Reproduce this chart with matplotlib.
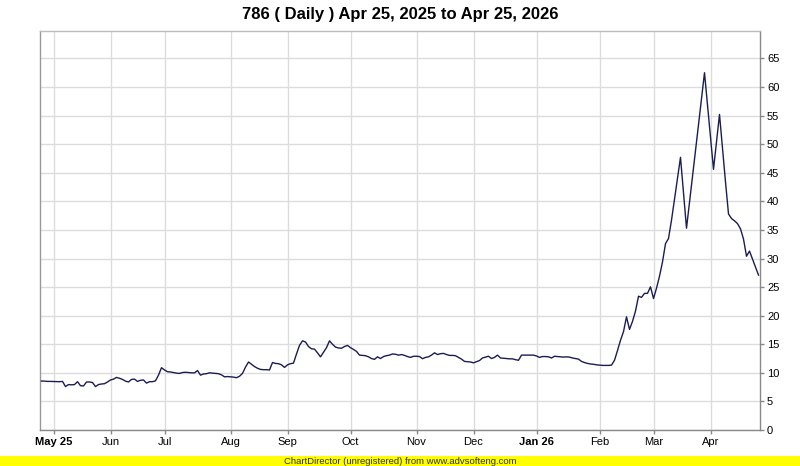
import matplotlib
matplotlib.use("Agg")
import matplotlib.pyplot as plt
from matplotlib.patches import Rectangle

title = "786 ( Daily ) Apr 25, 2025 to Apr 25, 2026"

# closing price per trading day (Apr 25 2025 .. Apr 24 2026)
prices = [
    8.57, 8.55, 8.5, 8.5, 8.48, 8.45, 8.45, 8.5, 7.6, 7.95,
    7.9, 7.95, 8.45, 7.75, 7.7, 8.4, 8.4, 8.3, 7.6, 7.95,
    8.05, 8.1, 8.4, 8.75, 8.9, 9.2, 9.05, 8.85, 8.55, 8.4,
    8.85, 8.9, 8.5, 8.7, 8.75, 8.2, 8.45, 8.45, 8.6, 9.6,
    10.9, 10.5, 10.2, 10.15, 10.05, 9.95, 9.9, 10.05, 10.1, 10.05,
    10.0, 10.0, 10.4, 9.6, 9.8, 9.85, 10.0, 9.95, 9.9, 9.85,
    9.65, 9.3, 9.35, 9.3, 9.25, 9.15, 9.4, 9.9, 11.0, 11.9,
    11.5, 11.1, 10.8, 10.6, 10.55, 10.55, 10.5, 11.8, 11.65, 11.6,
    11.4, 10.95, 11.4, 11.6, 11.7, 13.3, 14.8, 15.6, 15.4, 14.6,
    14.2, 14.15, 13.5, 12.8, 13.6, 14.4, 15.6, 15.0, 14.5, 14.35,
    14.3, 14.6, 14.8, 14.4, 14.1, 13.75, 13.1, 13.05, 13.0, 12.8,
    12.5, 12.36, 12.8, 12.5, 12.85, 13.0, 13.1, 13.3, 13.25, 13.1,
    13.2, 13.05, 12.85, 12.7, 12.9, 12.9, 12.85, 12.47, 12.7, 12.8,
    13.1, 13.5, 13.2, 13.35, 13.4, 13.2, 13.05, 13.05, 13.0, 12.7,
    12.4, 12.0, 11.95, 11.9, 11.75, 11.95, 12.15, 12.6, 12.75, 12.9,
    12.5, 12.7, 13.1, 12.6, 12.55, 12.5, 12.45, 12.45, 12.3, 12.2,
    13.1, 13.1, 13.1, 13.1, 13.1, 12.95, 12.7, 12.85, 12.85, 12.8,
    12.6, 12.9, 12.85, 12.8, 12.75, 12.8, 12.75, 12.6, 12.5, 12.4,
    12.0, 11.8, 11.65, 11.55, 11.5, 11.4, 11.35, 11.3, 11.3, 11.3,
    11.35, 12.2, 13.9, 15.7, 17.2, 19.8, 17.6, 19.0, 20.8, 23.4,
    23.2, 23.9, 23.9, 25.05, 23.0, 24.8, 26.9, 29.4, 32.6, 33.5,
    36.7, 40.4, 44.0, 47.7, 41.5, 35.3, 39.8, 44.4, 48.9, 53.4,
    58.0, 62.5, 56.9, 51.2, 45.6, 50.4, 55.2, 49.3, 43.4, 37.8,
    37.0, 36.6, 36.1, 35.2, 33.4, 30.4, 31.3, 29.9, 28.5, 27.1,
]

# trading-day index of the first session of each month
month_first_index = [4, 23, 41, 63, 82, 103, 125, 144, 165, 186, 204, 223]
month_labels = ["May 25", "Jun", "Jul", "Aug", "Sep", "Oct", "Nov", "Dec",
                "Jan 26", "Feb", "Mar", "Apr"]
y_ticks = list(range(0, 70, 5))

plt.rcParams['font.family'] = ['Liberation Sans', 'DejaVu Sans']

fig = plt.figure(figsize=(8.0, 4.66), dpi=100)
ax = fig.add_axes([40 / 800, 36 / 466, 720 / 800, 399 / 466])

x = list(range(len(prices)))
ax.plot(x, prices, color="#1c1c55", lw=1.0, zorder=3)

ax.set_xlim(-0.5, len(prices) - 0.5)
ax.set_ylim(0, 69.8)

ax.set_xticks(month_first_index)
ax.set_xticklabels(month_labels)
for lbl in ax.get_xticklabels():
    if " " in lbl.get_text():
        lbl.set_fontweight("bold")
ax.set_yticks(y_ticks)
ax.set_yticklabels([str(v) for v in y_ticks])

ax.yaxis.tick_right()
ax.tick_params(axis="both", labelsize=8, length=3, width=1,
               direction="out", pad=2)
ax.tick_params(axis="x", colors="#888888", labelcolor="#000000")
ax.tick_params(axis="y", colors="#888888", labelcolor="#000000")

ax.grid(True, color="#dcdcdc", lw=1)
ax.set_axisbelow(True)

for side, sp in ax.spines.items():
    sp.set_linewidth(1)
ax.spines["right"].set_color("#888888")
ax.spines["bottom"].set_color("#888888")
ax.spines["top"].set_color("#bbbbbb")
ax.spines["left"].set_color("#999999")

fig.text(0.5, 1 - 14 / 466, title, ha="center", va="center",
         fontsize=12, fontweight="bold",
         family=["Liberation Sans Narrow", "Liberation Sans", "DejaVu Sans"])

fig.patches.append(Rectangle((0, 0), 1, 10 / 466, transform=fig.transFigure,
                             facecolor="#ffff00", edgecolor="none", zorder=0))
fig.text(0.5, 5 / 466, "ChartDirector (unregistered) from www.advsofteng.com",
         ha="center", va="center", fontsize=6.8, color="#333300")

fig.savefig("out.png", dpi=100)
